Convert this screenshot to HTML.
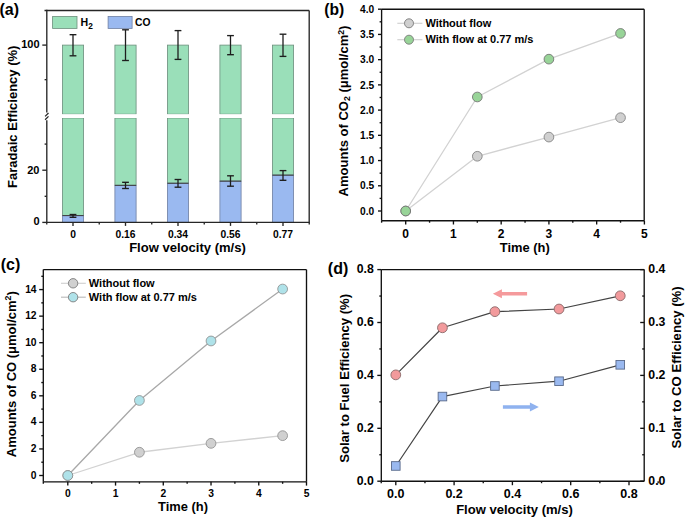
<!DOCTYPE html>
<html><head><meta charset="utf-8"><style>
html,body{margin:0;padding:0;background:#fff;}
svg{display:block;}
text{font-family:"Liberation Sans", sans-serif;font-weight:bold;fill:#000;}
</style></head><body>
<svg width="685" height="519" viewBox="0 0 685 519">
<rect x="0" y="0" width="685" height="519" fill="#fff"/>
<rect x="62.40" y="45.10" width="21.20" height="69.10" fill="#9adfb9" stroke="#6c8e7c" stroke-width="0.8" />
<rect x="62.40" y="118.00" width="21.20" height="97.61" fill="#9adfb9" stroke="#6c8e7c" stroke-width="0.8" />
<rect x="62.40" y="215.61" width="21.20" height="6.79" fill="#9ab9f0" stroke="#6e7fa2" stroke-width="0.8" />
<line x1="62.40" y1="215.61" x2="83.60" y2="215.61" stroke="#3c3c3c" stroke-width="1.0" />
<rect x="114.90" y="45.10" width="21.20" height="69.10" fill="#9adfb9" stroke="#6c8e7c" stroke-width="0.8" />
<rect x="114.90" y="118.00" width="21.20" height="67.34" fill="#9adfb9" stroke="#6c8e7c" stroke-width="0.8" />
<rect x="114.90" y="185.34" width="21.20" height="37.06" fill="#9ab9f0" stroke="#6e7fa2" stroke-width="0.8" />
<line x1="114.90" y1="185.34" x2="136.10" y2="185.34" stroke="#3c3c3c" stroke-width="1.0" />
<rect x="167.40" y="45.10" width="21.20" height="69.10" fill="#9adfb9" stroke="#6c8e7c" stroke-width="0.8" />
<rect x="167.40" y="118.00" width="21.20" height="65.25" fill="#9adfb9" stroke="#6c8e7c" stroke-width="0.8" />
<rect x="167.40" y="183.25" width="21.20" height="39.15" fill="#9ab9f0" stroke="#6e7fa2" stroke-width="0.8" />
<line x1="167.40" y1="183.25" x2="188.60" y2="183.25" stroke="#3c3c3c" stroke-width="1.0" />
<rect x="219.90" y="45.10" width="21.20" height="69.10" fill="#9adfb9" stroke="#6c8e7c" stroke-width="0.8" />
<rect x="219.90" y="118.00" width="21.20" height="63.16" fill="#9adfb9" stroke="#6c8e7c" stroke-width="0.8" />
<rect x="219.90" y="181.16" width="21.20" height="41.24" fill="#9ab9f0" stroke="#6e7fa2" stroke-width="0.8" />
<line x1="219.90" y1="181.16" x2="241.10" y2="181.16" stroke="#3c3c3c" stroke-width="1.0" />
<rect x="272.40" y="45.10" width="21.20" height="69.10" fill="#9adfb9" stroke="#6c8e7c" stroke-width="0.8" />
<rect x="272.40" y="118.00" width="21.20" height="57.16" fill="#9adfb9" stroke="#6c8e7c" stroke-width="0.8" />
<rect x="272.40" y="175.16" width="21.20" height="47.24" fill="#9ab9f0" stroke="#6e7fa2" stroke-width="0.8" />
<line x1="272.40" y1="175.16" x2="293.60" y2="175.16" stroke="#3c3c3c" stroke-width="1.0" />
<line x1="73.00" y1="34.70" x2="73.00" y2="55.80" stroke="#1e1e1e" stroke-width="1.3" />
<line x1="69.60" y1="34.70" x2="76.40" y2="34.70" stroke="#1e1e1e" stroke-width="1.35" />
<line x1="69.60" y1="55.80" x2="76.40" y2="55.80" stroke="#1e1e1e" stroke-width="1.35" />
<line x1="73.00" y1="214.50" x2="73.00" y2="217.30" stroke="#1e1e1e" stroke-width="1.3" />
<line x1="69.60" y1="214.50" x2="76.40" y2="214.50" stroke="#1e1e1e" stroke-width="1.35" />
<line x1="69.60" y1="217.30" x2="76.40" y2="217.30" stroke="#1e1e1e" stroke-width="1.35" />
<line x1="125.50" y1="29.80" x2="125.50" y2="60.50" stroke="#1e1e1e" stroke-width="1.3" />
<line x1="122.10" y1="29.80" x2="128.90" y2="29.80" stroke="#1e1e1e" stroke-width="1.35" />
<line x1="122.10" y1="60.50" x2="128.90" y2="60.50" stroke="#1e1e1e" stroke-width="1.35" />
<line x1="125.50" y1="182.30" x2="125.50" y2="188.50" stroke="#1e1e1e" stroke-width="1.3" />
<line x1="122.10" y1="182.30" x2="128.90" y2="182.30" stroke="#1e1e1e" stroke-width="1.35" />
<line x1="122.10" y1="188.50" x2="128.90" y2="188.50" stroke="#1e1e1e" stroke-width="1.35" />
<line x1="178.00" y1="30.60" x2="178.00" y2="59.40" stroke="#1e1e1e" stroke-width="1.3" />
<line x1="174.60" y1="30.60" x2="181.40" y2="30.60" stroke="#1e1e1e" stroke-width="1.35" />
<line x1="174.60" y1="59.40" x2="181.40" y2="59.40" stroke="#1e1e1e" stroke-width="1.35" />
<line x1="178.00" y1="179.50" x2="178.00" y2="187.20" stroke="#1e1e1e" stroke-width="1.3" />
<line x1="174.60" y1="179.50" x2="181.40" y2="179.50" stroke="#1e1e1e" stroke-width="1.35" />
<line x1="174.60" y1="187.20" x2="181.40" y2="187.20" stroke="#1e1e1e" stroke-width="1.35" />
<line x1="230.50" y1="35.60" x2="230.50" y2="54.70" stroke="#1e1e1e" stroke-width="1.3" />
<line x1="227.10" y1="35.60" x2="233.90" y2="35.60" stroke="#1e1e1e" stroke-width="1.35" />
<line x1="227.10" y1="54.70" x2="233.90" y2="54.70" stroke="#1e1e1e" stroke-width="1.35" />
<line x1="230.50" y1="175.80" x2="230.50" y2="186.20" stroke="#1e1e1e" stroke-width="1.3" />
<line x1="227.10" y1="175.80" x2="233.90" y2="175.80" stroke="#1e1e1e" stroke-width="1.35" />
<line x1="227.10" y1="186.20" x2="233.90" y2="186.20" stroke="#1e1e1e" stroke-width="1.35" />
<line x1="283.00" y1="34.20" x2="283.00" y2="56.40" stroke="#1e1e1e" stroke-width="1.3" />
<line x1="279.60" y1="34.20" x2="286.40" y2="34.20" stroke="#1e1e1e" stroke-width="1.35" />
<line x1="279.60" y1="56.40" x2="286.40" y2="56.40" stroke="#1e1e1e" stroke-width="1.35" />
<line x1="283.00" y1="170.60" x2="283.00" y2="180.30" stroke="#1e1e1e" stroke-width="1.3" />
<line x1="279.60" y1="170.60" x2="286.40" y2="170.60" stroke="#1e1e1e" stroke-width="1.35" />
<line x1="279.60" y1="180.30" x2="286.40" y2="180.30" stroke="#1e1e1e" stroke-width="1.35" />
<rect x="47.80" y="114.20" width="260.40" height="3.80" fill="#fff" stroke="none" stroke-width="0" />
<line x1="44.50" y1="10.50" x2="309.20" y2="10.50" stroke="#262626" stroke-width="1.35" />
<line x1="309.20" y1="10.50" x2="309.20" y2="222.40" stroke="#262626" stroke-width="1.35" />
<line x1="46.15" y1="222.40" x2="309.85" y2="222.40" stroke="#262626" stroke-width="1.35" />
<line x1="46.80" y1="9.85" x2="46.80" y2="112.40" stroke="#262626" stroke-width="1.35" />
<line x1="46.80" y1="120.30" x2="46.80" y2="222.40" stroke="#262626" stroke-width="1.35" />
<line x1="45.10" y1="116.40" x2="48.50" y2="113.00" stroke="#262626" stroke-width="1.25" />
<line x1="45.10" y1="119.80" x2="48.50" y2="116.40" stroke="#262626" stroke-width="1.25" />
<line x1="42.30" y1="45.10" x2="46.80" y2="45.10" stroke="#262626" stroke-width="1.35" />
<line x1="42.30" y1="170.20" x2="46.80" y2="170.20" stroke="#262626" stroke-width="1.35" />
<line x1="42.30" y1="222.40" x2="46.80" y2="222.40" stroke="#262626" stroke-width="1.35" />
<line x1="44.60" y1="79.65" x2="46.80" y2="79.65" stroke="#262626" stroke-width="1.35" />
<line x1="44.60" y1="144.10" x2="46.80" y2="144.10" stroke="#262626" stroke-width="1.35" />
<line x1="44.60" y1="196.30" x2="46.80" y2="196.30" stroke="#262626" stroke-width="1.35" />
<line x1="73.00" y1="222.40" x2="73.00" y2="225.90" stroke="#262626" stroke-width="1.35" />
<line x1="125.50" y1="222.40" x2="125.50" y2="225.90" stroke="#262626" stroke-width="1.35" />
<line x1="178.00" y1="222.40" x2="178.00" y2="225.90" stroke="#262626" stroke-width="1.35" />
<line x1="230.50" y1="222.40" x2="230.50" y2="225.90" stroke="#262626" stroke-width="1.35" />
<line x1="283.00" y1="222.40" x2="283.00" y2="225.90" stroke="#262626" stroke-width="1.35" />
<line x1="46.75" y1="222.40" x2="46.75" y2="224.40" stroke="#262626" stroke-width="1.35" />
<line x1="99.25" y1="222.40" x2="99.25" y2="224.40" stroke="#262626" stroke-width="1.35" />
<line x1="151.75" y1="222.40" x2="151.75" y2="224.40" stroke="#262626" stroke-width="1.35" />
<line x1="204.25" y1="222.40" x2="204.25" y2="224.40" stroke="#262626" stroke-width="1.35" />
<line x1="256.75" y1="222.40" x2="256.75" y2="224.40" stroke="#262626" stroke-width="1.35" />
<line x1="309.25" y1="222.40" x2="309.25" y2="224.40" stroke="#262626" stroke-width="1.35" />
<text x="39.50" y="48.10" font-size="11" text-anchor="end" >100</text>
<text x="39.50" y="173.60" font-size="11" text-anchor="end" >20</text>
<text x="39.50" y="225.40" font-size="11" text-anchor="end" >0</text>
<text x="73.00" y="237.60" font-size="10.3" text-anchor="middle" >0</text>
<text x="125.50" y="237.60" font-size="10.3" text-anchor="middle" >0.16</text>
<text x="178.00" y="237.60" font-size="10.3" text-anchor="middle" >0.34</text>
<text x="230.50" y="237.60" font-size="10.3" text-anchor="middle" >0.56</text>
<text x="283.00" y="237.60" font-size="10.3" text-anchor="middle" >0.77</text>
<text x="187.50" y="251.70" font-size="13.05" text-anchor="middle" >Flow velocity (m/s)</text>
<text transform="translate(17.20,116.80) rotate(-90)" x="0" y="0" font-size="13" text-anchor="middle" >Faradaic Efficiency (%)</text>
<text x="-0.50" y="14.70" font-size="16" text-anchor="start" >(a)</text>
<rect x="52.60" y="16.50" width="24.40" height="11.90" fill="#9adfb9" stroke="#6c8e7c" stroke-width="0.8" />
<text x="80.50" y="25.80" font-size="10.6" text-anchor="start" >H<tspan font-size="8.3" dy="3.0">2</tspan></text>
<rect x="108.10" y="16.50" width="24.00" height="11.90" fill="#9ab9f0" stroke="#6e7fa2" stroke-width="0.8" />
<text x="135.00" y="25.70" font-size="10.3" text-anchor="start" >CO</text>
<polyline points="405.70,211.00 477.31,156.26 548.92,137.09 620.53,117.67" fill="none" stroke="#d2d2d2" stroke-width="1.3" stroke-linejoin="round"/>
<polyline points="405.70,211.00 477.31,96.98 548.92,59.15 620.53,33.42" fill="none" stroke="#d2d2d2" stroke-width="1.3" stroke-linejoin="round"/>
<circle cx="405.70" cy="211.00" r="4.85" fill="#d0d0d0" stroke="#7f7f7f" stroke-width="0.85"/>
<circle cx="477.31" cy="156.26" r="4.85" fill="#d0d0d0" stroke="#7f7f7f" stroke-width="0.85"/>
<circle cx="548.92" cy="137.09" r="4.85" fill="#d0d0d0" stroke="#7f7f7f" stroke-width="0.85"/>
<circle cx="620.53" cy="117.67" r="4.85" fill="#d0d0d0" stroke="#7f7f7f" stroke-width="0.85"/>
<circle cx="405.70" cy="211.00" r="4.85" fill="#98d498" stroke="#707070" stroke-width="0.85"/>
<circle cx="477.31" cy="96.98" r="4.85" fill="#98d498" stroke="#707070" stroke-width="0.85"/>
<circle cx="548.92" cy="59.15" r="4.85" fill="#98d498" stroke="#707070" stroke-width="0.85"/>
<circle cx="620.53" cy="33.42" r="4.85" fill="#98d498" stroke="#707070" stroke-width="0.85"/>
<line x1="381.60" y1="9.20" x2="644.20" y2="9.20" stroke="#111" stroke-width="1.35" />
<line x1="644.20" y1="9.20" x2="644.20" y2="220.70" stroke="#111" stroke-width="1.35" />
<line x1="381.60" y1="220.70" x2="644.20" y2="220.70" stroke="#111" stroke-width="1.35" />
<line x1="381.60" y1="9.20" x2="381.60" y2="220.70" stroke="#111" stroke-width="1.35" />
<line x1="378.00" y1="211.00" x2="381.60" y2="211.00" stroke="#111" stroke-width="1.35" />
<line x1="378.00" y1="185.78" x2="381.60" y2="185.78" stroke="#111" stroke-width="1.35" />
<line x1="378.00" y1="160.55" x2="381.60" y2="160.55" stroke="#111" stroke-width="1.35" />
<line x1="378.00" y1="135.32" x2="381.60" y2="135.32" stroke="#111" stroke-width="1.35" />
<line x1="378.00" y1="110.10" x2="381.60" y2="110.10" stroke="#111" stroke-width="1.35" />
<line x1="378.00" y1="84.88" x2="381.60" y2="84.88" stroke="#111" stroke-width="1.35" />
<line x1="378.00" y1="59.65" x2="381.60" y2="59.65" stroke="#111" stroke-width="1.35" />
<line x1="378.00" y1="34.42" x2="381.60" y2="34.42" stroke="#111" stroke-width="1.35" />
<line x1="378.00" y1="9.20" x2="381.60" y2="9.20" stroke="#111" stroke-width="1.35" />
<line x1="379.60" y1="198.39" x2="381.60" y2="198.39" stroke="#111" stroke-width="1.35" />
<line x1="379.60" y1="173.16" x2="381.60" y2="173.16" stroke="#111" stroke-width="1.35" />
<line x1="379.60" y1="147.94" x2="381.60" y2="147.94" stroke="#111" stroke-width="1.35" />
<line x1="379.60" y1="122.71" x2="381.60" y2="122.71" stroke="#111" stroke-width="1.35" />
<line x1="379.60" y1="97.49" x2="381.60" y2="97.49" stroke="#111" stroke-width="1.35" />
<line x1="379.60" y1="72.26" x2="381.60" y2="72.26" stroke="#111" stroke-width="1.35" />
<line x1="379.60" y1="47.04" x2="381.60" y2="47.04" stroke="#111" stroke-width="1.35" />
<line x1="379.60" y1="21.81" x2="381.60" y2="21.81" stroke="#111" stroke-width="1.35" />
<line x1="405.70" y1="220.70" x2="405.70" y2="224.50" stroke="#111" stroke-width="1.35" />
<line x1="453.44" y1="220.70" x2="453.44" y2="224.50" stroke="#111" stroke-width="1.35" />
<line x1="501.18" y1="220.70" x2="501.18" y2="224.50" stroke="#111" stroke-width="1.35" />
<line x1="548.92" y1="220.70" x2="548.92" y2="224.50" stroke="#111" stroke-width="1.35" />
<line x1="596.66" y1="220.70" x2="596.66" y2="224.50" stroke="#111" stroke-width="1.35" />
<line x1="644.40" y1="220.70" x2="644.40" y2="224.50" stroke="#111" stroke-width="1.35" />
<line x1="429.57" y1="220.70" x2="429.57" y2="222.70" stroke="#111" stroke-width="1.35" />
<line x1="477.31" y1="220.70" x2="477.31" y2="222.70" stroke="#111" stroke-width="1.35" />
<line x1="525.05" y1="220.70" x2="525.05" y2="222.70" stroke="#111" stroke-width="1.35" />
<line x1="572.79" y1="220.70" x2="572.79" y2="222.70" stroke="#111" stroke-width="1.35" />
<line x1="620.53" y1="220.70" x2="620.53" y2="222.70" stroke="#111" stroke-width="1.35" />
<line x1="381.60" y1="220.70" x2="381.60" y2="222.70" stroke="#111" stroke-width="1.35" />
<text x="374.20" y="214.70" font-size="10.2" text-anchor="end" >0.0</text>
<text x="374.20" y="189.47" font-size="10.2" text-anchor="end" >0.5</text>
<text x="374.20" y="164.25" font-size="10.2" text-anchor="end" >1.0</text>
<text x="374.20" y="139.02" font-size="10.2" text-anchor="end" >1.5</text>
<text x="374.20" y="113.80" font-size="10.2" text-anchor="end" >2.0</text>
<text x="374.20" y="88.58" font-size="10.2" text-anchor="end" >2.5</text>
<text x="374.20" y="63.35" font-size="10.2" text-anchor="end" >3.0</text>
<text x="374.20" y="38.12" font-size="10.2" text-anchor="end" >3.5</text>
<text x="374.20" y="12.90" font-size="10.2" text-anchor="end" >4.0</text>
<text x="405.70" y="238.20" font-size="12.0" text-anchor="middle" >0</text>
<text x="453.44" y="238.20" font-size="12.0" text-anchor="middle" >1</text>
<text x="501.18" y="238.20" font-size="12.0" text-anchor="middle" >2</text>
<text x="548.92" y="238.20" font-size="12.0" text-anchor="middle" >3</text>
<text x="596.66" y="238.20" font-size="12.0" text-anchor="middle" >4</text>
<text x="644.40" y="238.20" font-size="12.0" text-anchor="middle" >5</text>
<text x="524.80" y="252.20" font-size="12.9" text-anchor="middle" >Time (h)</text>
<text transform="translate(348.00,111.00) rotate(-90)" x="0" y="0" font-size="13" text-anchor="middle" >Amounts of CO<tspan font-size="8.7" dy="2.4">2</tspan><tspan dy="-2.4"> (μmol/cm</tspan><tspan font-size="8.7" dy="-4.3">2</tspan><tspan dy="4.3">)</tspan></text>
<text x="324.20" y="14.70" font-size="15.6" text-anchor="start" >(b)</text>
<line x1="397.30" y1="23.30" x2="422.40" y2="23.30" stroke="#d2d2d2" stroke-width="1.2" />
<circle cx="409.00" cy="23.30" r="4.5" fill="#d0d0d0" stroke="#7a7a7a" stroke-width="0.9"/>
<line x1="397.30" y1="39.70" x2="422.40" y2="39.70" stroke="#d2d2d2" stroke-width="1.2" />
<circle cx="409.00" cy="39.70" r="4.5" fill="#98d498" stroke="#7a7a7a" stroke-width="0.9"/>
<text x="425.40" y="27.00" font-size="11" text-anchor="start" >Without flow</text>
<text x="425.40" y="43.40" font-size="11" text-anchor="start" >With flow at 0.77 m/s</text>
<polyline points="67.80,475.50 139.41,452.26 211.02,443.36 282.63,435.66" fill="none" stroke="#d2d2d2" stroke-width="1.3" stroke-linejoin="round"/>
<polyline points="67.80,475.50 139.41,400.47 211.02,340.97 282.63,289.05" fill="none" stroke="#a8a8a8" stroke-width="1.3" stroke-linejoin="round"/>
<circle cx="67.80" cy="475.50" r="4.9" fill="#d0d0d0" stroke="#8a8a8a" stroke-width="0.8"/>
<circle cx="139.41" cy="452.26" r="4.9" fill="#d0d0d0" stroke="#8a8a8a" stroke-width="0.8"/>
<circle cx="211.02" cy="443.36" r="4.9" fill="#d0d0d0" stroke="#8a8a8a" stroke-width="0.8"/>
<circle cx="282.63" cy="435.66" r="4.9" fill="#d0d0d0" stroke="#8a8a8a" stroke-width="0.8"/>
<circle cx="67.80" cy="475.50" r="4.9" fill="#afe2e9" stroke="#8a8a8a" stroke-width="0.8"/>
<circle cx="139.41" cy="400.47" r="4.9" fill="#afe2e9" stroke="#8a8a8a" stroke-width="0.8"/>
<circle cx="211.02" cy="340.97" r="4.9" fill="#afe2e9" stroke="#8a8a8a" stroke-width="0.8"/>
<circle cx="282.63" cy="289.05" r="4.9" fill="#afe2e9" stroke="#8a8a8a" stroke-width="0.8"/>
<line x1="43.30" y1="269.60" x2="306.50" y2="269.60" stroke="#111" stroke-width="1.35" />
<line x1="306.50" y1="269.60" x2="306.50" y2="481.80" stroke="#111" stroke-width="1.35" />
<line x1="43.30" y1="481.80" x2="306.50" y2="481.80" stroke="#111" stroke-width="1.35" />
<line x1="43.30" y1="269.60" x2="43.30" y2="481.80" stroke="#111" stroke-width="1.35" />
<line x1="39.20" y1="475.50" x2="43.30" y2="475.50" stroke="#111" stroke-width="1.35" />
<line x1="39.20" y1="448.94" x2="43.30" y2="448.94" stroke="#111" stroke-width="1.35" />
<line x1="39.20" y1="422.38" x2="43.30" y2="422.38" stroke="#111" stroke-width="1.35" />
<line x1="39.20" y1="395.82" x2="43.30" y2="395.82" stroke="#111" stroke-width="1.35" />
<line x1="39.20" y1="369.26" x2="43.30" y2="369.26" stroke="#111" stroke-width="1.35" />
<line x1="39.20" y1="342.70" x2="43.30" y2="342.70" stroke="#111" stroke-width="1.35" />
<line x1="39.20" y1="316.14" x2="43.30" y2="316.14" stroke="#111" stroke-width="1.35" />
<line x1="39.20" y1="289.58" x2="43.30" y2="289.58" stroke="#111" stroke-width="1.35" />
<line x1="41.30" y1="462.22" x2="43.30" y2="462.22" stroke="#111" stroke-width="1.35" />
<line x1="41.30" y1="435.66" x2="43.30" y2="435.66" stroke="#111" stroke-width="1.35" />
<line x1="41.30" y1="409.10" x2="43.30" y2="409.10" stroke="#111" stroke-width="1.35" />
<line x1="41.30" y1="382.54" x2="43.30" y2="382.54" stroke="#111" stroke-width="1.35" />
<line x1="41.30" y1="355.98" x2="43.30" y2="355.98" stroke="#111" stroke-width="1.35" />
<line x1="41.30" y1="329.42" x2="43.30" y2="329.42" stroke="#111" stroke-width="1.35" />
<line x1="41.30" y1="302.86" x2="43.30" y2="302.86" stroke="#111" stroke-width="1.35" />
<line x1="41.30" y1="276.30" x2="43.30" y2="276.30" stroke="#111" stroke-width="1.35" />
<line x1="67.80" y1="481.80" x2="67.80" y2="485.60" stroke="#111" stroke-width="1.35" />
<line x1="115.54" y1="481.80" x2="115.54" y2="485.60" stroke="#111" stroke-width="1.35" />
<line x1="163.28" y1="481.80" x2="163.28" y2="485.60" stroke="#111" stroke-width="1.35" />
<line x1="211.02" y1="481.80" x2="211.02" y2="485.60" stroke="#111" stroke-width="1.35" />
<line x1="258.76" y1="481.80" x2="258.76" y2="485.60" stroke="#111" stroke-width="1.35" />
<line x1="306.50" y1="481.80" x2="306.50" y2="485.60" stroke="#111" stroke-width="1.35" />
<line x1="91.67" y1="481.80" x2="91.67" y2="483.80" stroke="#111" stroke-width="1.35" />
<line x1="139.41" y1="481.80" x2="139.41" y2="483.80" stroke="#111" stroke-width="1.35" />
<line x1="187.15" y1="481.80" x2="187.15" y2="483.80" stroke="#111" stroke-width="1.35" />
<line x1="234.89" y1="481.80" x2="234.89" y2="483.80" stroke="#111" stroke-width="1.35" />
<line x1="282.63" y1="481.80" x2="282.63" y2="483.80" stroke="#111" stroke-width="1.35" />
<line x1="43.30" y1="481.80" x2="43.30" y2="483.80" stroke="#111" stroke-width="1.35" />
<text x="36.60" y="478.60" font-size="10.3" text-anchor="end" >0</text>
<text x="36.60" y="452.04" font-size="10.3" text-anchor="end" >2</text>
<text x="36.60" y="425.48" font-size="10.3" text-anchor="end" >4</text>
<text x="36.60" y="398.92" font-size="10.3" text-anchor="end" >6</text>
<text x="36.60" y="372.36" font-size="10.3" text-anchor="end" >8</text>
<text x="36.60" y="345.80" font-size="10.3" text-anchor="end" >10</text>
<text x="36.60" y="319.24" font-size="10.3" text-anchor="end" >12</text>
<text x="36.60" y="292.68" font-size="10.3" text-anchor="end" >14</text>
<text x="67.80" y="497.20" font-size="10.3" text-anchor="middle" >0</text>
<text x="115.54" y="497.20" font-size="10.3" text-anchor="middle" >1</text>
<text x="163.28" y="497.20" font-size="10.3" text-anchor="middle" >2</text>
<text x="211.02" y="497.20" font-size="10.3" text-anchor="middle" >3</text>
<text x="258.76" y="497.20" font-size="10.3" text-anchor="middle" >4</text>
<text x="306.50" y="497.20" font-size="10.3" text-anchor="middle" >5</text>
<text x="183.00" y="511.20" font-size="12.9" text-anchor="middle" >Time (h)</text>
<text transform="translate(15.60,374.20) rotate(-90)" x="0" y="0" font-size="13" text-anchor="middle" >Amounts of CO (μmol/cm<tspan font-size="8.7" dy="-4.2">2</tspan><tspan dy="4.2">)</tspan></text>
<text x="0.70" y="269.50" font-size="16" text-anchor="start" >(c)</text>
<line x1="61.00" y1="283.30" x2="85.80" y2="283.30" stroke="#d2d2d2" stroke-width="1.2" />
<circle cx="73.10" cy="283.30" r="4.7" fill="#d0d0d0" stroke="#7a7a7a" stroke-width="0.9"/>
<line x1="61.00" y1="297.20" x2="85.80" y2="297.20" stroke="#bdbdbd" stroke-width="1.2" />
<circle cx="73.10" cy="297.20" r="4.7" fill="#afe2e9" stroke="#7a7a7a" stroke-width="0.9"/>
<text x="88.80" y="287.00" font-size="11" text-anchor="start" >Without flow</text>
<text x="88.80" y="301.10" font-size="11" text-anchor="start" >With flow at 0.77 m/s</text>
<polyline points="395.80,374.87 442.44,327.79 494.91,311.66 559.04,309.01 620.25,295.79" fill="none" stroke="#444" stroke-width="1.2" stroke-linejoin="round"/>
<polyline points="395.80,465.96 442.44,396.56 494.91,385.98 559.04,381.22 620.25,364.82" fill="none" stroke="#444" stroke-width="1.2" stroke-linejoin="round"/>
<circle cx="395.80" cy="374.87" r="4.9" fill="#f29a9c" stroke="#8a6a6a" stroke-width="0.9"/>
<circle cx="442.44" cy="327.79" r="4.9" fill="#f29a9c" stroke="#8a6a6a" stroke-width="0.9"/>
<circle cx="494.91" cy="311.66" r="4.9" fill="#f29a9c" stroke="#8a6a6a" stroke-width="0.9"/>
<circle cx="559.04" cy="309.01" r="4.9" fill="#f29a9c" stroke="#8a6a6a" stroke-width="0.9"/>
<circle cx="620.25" cy="295.79" r="4.9" fill="#f29a9c" stroke="#8a6a6a" stroke-width="0.9"/>
<rect x="391.50" y="461.66" width="8.60" height="8.60" fill="#9ab9f0" stroke="#5a6a8a" stroke-width="0.9" />
<rect x="438.14" y="392.26" width="8.60" height="8.60" fill="#9ab9f0" stroke="#5a6a8a" stroke-width="0.9" />
<rect x="490.61" y="381.68" width="8.60" height="8.60" fill="#9ab9f0" stroke="#5a6a8a" stroke-width="0.9" />
<rect x="554.74" y="376.92" width="8.60" height="8.60" fill="#9ab9f0" stroke="#5a6a8a" stroke-width="0.9" />
<rect x="615.96" y="360.52" width="8.60" height="8.60" fill="#9ab9f0" stroke="#5a6a8a" stroke-width="0.9" />
<path d="M492.9,293.7 L501.9,289.2 L501.9,292.0 L527.1,292.0 L527.1,295.4 L501.9,295.4 L501.9,298.2 Z" fill="#f59a9c"/>
<path d="M538.8,407 L529.9,402.6 L529.9,405.3 L502.9,405.3 L502.9,408.7 L529.9,408.7 L529.9,411.4 Z" fill="#8fb2ef"/>
<line x1="381.30" y1="269.60" x2="644.20" y2="269.60" stroke="#111" stroke-width="1.35" />
<line x1="644.20" y1="269.60" x2="644.20" y2="481.20" stroke="#111" stroke-width="1.35" />
<line x1="381.30" y1="481.20" x2="644.20" y2="481.20" stroke="#111" stroke-width="1.35" />
<line x1="381.30" y1="269.60" x2="381.30" y2="481.20" stroke="#111" stroke-width="1.35" />
<line x1="377.30" y1="481.20" x2="381.30" y2="481.20" stroke="#111" stroke-width="1.35" />
<line x1="377.30" y1="428.30" x2="381.30" y2="428.30" stroke="#111" stroke-width="1.35" />
<line x1="377.30" y1="375.40" x2="381.30" y2="375.40" stroke="#111" stroke-width="1.35" />
<line x1="377.30" y1="322.50" x2="381.30" y2="322.50" stroke="#111" stroke-width="1.35" />
<line x1="377.30" y1="269.60" x2="381.30" y2="269.60" stroke="#111" stroke-width="1.35" />
<line x1="379.30" y1="454.75" x2="381.30" y2="454.75" stroke="#111" stroke-width="1.35" />
<line x1="379.30" y1="401.85" x2="381.30" y2="401.85" stroke="#111" stroke-width="1.35" />
<line x1="379.30" y1="348.95" x2="381.30" y2="348.95" stroke="#111" stroke-width="1.35" />
<line x1="379.30" y1="296.05" x2="381.30" y2="296.05" stroke="#111" stroke-width="1.35" />
<line x1="640.20" y1="481.20" x2="644.20" y2="481.20" stroke="#111" stroke-width="1.35" />
<line x1="640.20" y1="428.30" x2="644.20" y2="428.30" stroke="#111" stroke-width="1.35" />
<line x1="640.20" y1="375.40" x2="644.20" y2="375.40" stroke="#111" stroke-width="1.35" />
<line x1="640.20" y1="322.50" x2="644.20" y2="322.50" stroke="#111" stroke-width="1.35" />
<line x1="640.20" y1="269.60" x2="644.20" y2="269.60" stroke="#111" stroke-width="1.35" />
<line x1="642.20" y1="454.75" x2="644.20" y2="454.75" stroke="#111" stroke-width="1.35" />
<line x1="642.20" y1="401.85" x2="644.20" y2="401.85" stroke="#111" stroke-width="1.35" />
<line x1="642.20" y1="348.95" x2="644.20" y2="348.95" stroke="#111" stroke-width="1.35" />
<line x1="642.20" y1="296.05" x2="644.20" y2="296.05" stroke="#111" stroke-width="1.35" />
<line x1="395.80" y1="481.20" x2="395.80" y2="485.20" stroke="#111" stroke-width="1.35" />
<line x1="454.10" y1="481.20" x2="454.10" y2="485.20" stroke="#111" stroke-width="1.35" />
<line x1="512.40" y1="481.20" x2="512.40" y2="485.20" stroke="#111" stroke-width="1.35" />
<line x1="570.70" y1="481.20" x2="570.70" y2="485.20" stroke="#111" stroke-width="1.35" />
<line x1="629.00" y1="481.20" x2="629.00" y2="485.20" stroke="#111" stroke-width="1.35" />
<line x1="424.95" y1="481.20" x2="424.95" y2="483.20" stroke="#111" stroke-width="1.35" />
<line x1="483.25" y1="481.20" x2="483.25" y2="483.20" stroke="#111" stroke-width="1.35" />
<line x1="541.55" y1="481.20" x2="541.55" y2="483.20" stroke="#111" stroke-width="1.35" />
<line x1="599.85" y1="481.20" x2="599.85" y2="483.20" stroke="#111" stroke-width="1.35" />
<line x1="658.15" y1="481.20" x2="658.15" y2="483.20" stroke="#111" stroke-width="1.35" />
<line x1="381.23" y1="481.20" x2="381.23" y2="483.20" stroke="#111" stroke-width="1.35" />
<text x="373.80" y="484.60" font-size="12.3" text-anchor="end" >0.0</text>
<text x="373.80" y="431.70" font-size="12.3" text-anchor="end" >0.2</text>
<text x="373.80" y="378.80" font-size="12.3" text-anchor="end" >0.4</text>
<text x="373.80" y="325.90" font-size="12.3" text-anchor="end" >0.6</text>
<text x="373.80" y="273.00" font-size="12.3" text-anchor="end" >0.8</text>
<text x="648.30" y="484.60" font-size="12.3" text-anchor="start" >0.0</text>
<text x="648.30" y="431.70" font-size="12.3" text-anchor="start" >0.1</text>
<text x="648.30" y="378.80" font-size="12.3" text-anchor="start" >0.2</text>
<text x="648.30" y="325.90" font-size="12.3" text-anchor="start" >0.3</text>
<text x="648.30" y="273.00" font-size="12.3" text-anchor="start" >0.4</text>
<text x="395.80" y="498.40" font-size="12.5" text-anchor="middle" >0.0</text>
<text x="454.10" y="498.40" font-size="12.5" text-anchor="middle" >0.2</text>
<text x="512.40" y="498.40" font-size="12.5" text-anchor="middle" >0.4</text>
<text x="570.70" y="498.40" font-size="12.5" text-anchor="middle" >0.6</text>
<text x="629.00" y="498.40" font-size="12.5" text-anchor="middle" >0.8</text>
<text x="514.50" y="514.00" font-size="13.05" text-anchor="middle" >Flow velocity (m/s)</text>
<text transform="translate(349.00,378.40) rotate(-90)" x="0" y="0" font-size="13.1" text-anchor="middle" >Solar to Fuel Efficiency (%)</text>
<text transform="translate(681.30,367.40) rotate(-90)" x="0" y="0" font-size="13.15" text-anchor="middle" >Solar to CO Efficiency (%)</text>
<text x="327.80" y="273.90" font-size="16" text-anchor="start" >(d)</text>
</svg>
</body></html>
